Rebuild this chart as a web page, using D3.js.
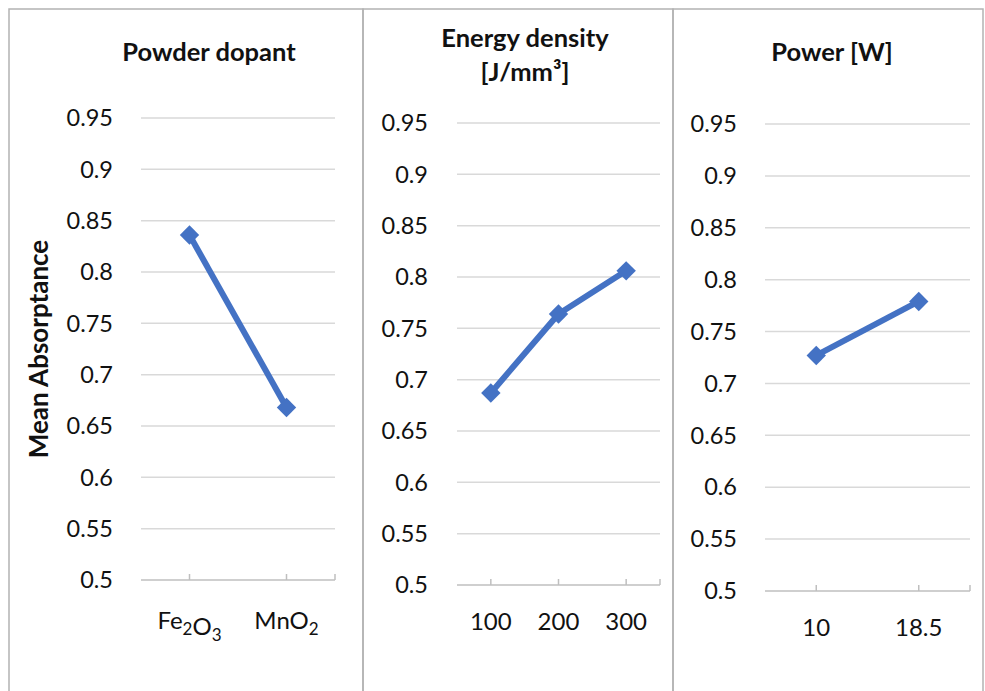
<!DOCTYPE html>
<html>
<head>
<meta charset="utf-8">
<script src="https://cdn.jsdelivr.net/npm/d3@7"></script>
<style>
  body { margin: 0; background: #fff; }
  svg text { font-family: Lato, "Open Sans", sans-serif; fill: #111; }
</style>
</head>
<body>
<script>
// chart values
var yTicks = [0.5, 0.55, 0.6, 0.65, 0.7, 0.75, 0.8, 0.85, 0.9, 0.95];

var dopantCats = ["Fe2O3", "MnO2"];
var dopantVals = [0.836, 0.668];

var energyCats = ["100", "200", "300"];
var energyVals = [0.687, 0.764, 0.806];

var powerCats = ["10", "18.5"];
var powerVals = [0.727, 0.779];

var titles = [["Powder dopant"], ["Energy density", "[J/mm³]"], ["Power [W]"]];

// layout of the three panels
var panels = [
  {cats: dopantCats, vals: dopantVals, title: titles[0], box: [9, 363], plot: [141, 335], y: [580, 118], labelX: 113, tickY: 621, titleX: 209, titleY: 61},
  {cats: energyCats, vals: energyVals, title: titles[1], box: [363, 673], plot: [457, 660], y: [585, 123], labelX: 428, tickY: 622, titleX: 525, titleY: 47},
  {cats: powerCats, vals: powerVals, title: titles[2], box: [673, 983], plot: [765, 970], y: [591, 124], labelX: 737, tickY: 628, titleX: 832, titleY: 61}
];

var W = 985, H = 691;
var svg = d3.select("body").append("svg")
    .attr("width", W)
    .attr("height", H);

var blue = "#4472C4";

// outer frame (no bottom edge visible in the picture)
panels.forEach(function(p, i) {
  var path = "M" + p.box[0] + "," + (H + 2) + "V9H" + p.box[1] + "V" + (H + 2);
  svg.append("path")
    .attr("d", path)
    .attr("fill", "none")
    .attr("stroke", "#b3b3b3")
    .attr("stroke-width", 1.5);
});

// writes a label, turning digits after letters into subscripts (Fe2O3 -> Fe₂O₃)
function writeLabel(sel, txt) {
  if (/^[\d.]+$/.test(txt)) { sel.text(txt); return; }
  var parts = txt.match(/[A-Za-z]+|\d+/g);
  parts.forEach(function(part) {
    if (/^\d+$/.test(part)) {
      sel.append("tspan").attr("dy", 6).attr("font-size", 17).text(part);
      sel.append("tspan").attr("dy", -6).text("");
    } else {
      sel.append("tspan").text(part);
    }
  });
}

panels.forEach(function(p) {
  var g = svg.append("g");

  var x = d3.scaleBand()
    .domain(p.cats)
    .range(p.plot);

  var y = d3.scaleLinear()
    .domain([0.5, 0.95])
    .range(p.y);

  // gridlines
  g.selectAll(".grid")
    .data(yTicks.slice(1))
    .enter().append("line")
    .attr("x1", p.plot[0]).attr("x2", p.plot[1])
    .attr("y1", function(d) { return y(d); })
    .attr("y2", function(d) { return y(d); })
    .attr("stroke", "#d9d9d9")
    .attr("stroke-width", 1.5);

  // category axis line + ticks
  g.append("line")
    .attr("x1", p.plot[0]).attr("x2", p.plot[1])
    .attr("y1", y(0.5)).attr("y2", y(0.5))
    .attr("stroke", "#bfbfbf")
    .attr("stroke-width", 1.5);

  var tickXs = p.cats.map(function(c) { return x(c) + x.bandwidth() / 2; });
  tickXs.push(p.plot[1]);
  g.selectAll(".xtick")
    .data(tickXs)
    .enter().append("line")
    .attr("x1", function(d) { return d; })
    .attr("x2", function(d) { return d; })
    .attr("y1", y(0.5)).attr("y2", y(0.5) - 6)
    .attr("stroke", "#bfbfbf")
    .attr("stroke-width", 1.5);

  // y tick labels
  g.selectAll(".ylab")
    .data(yTicks)
    .enter().append("text")
    .attr("x", p.labelX)
    .attr("y", function(d) { return y(d); })
    .attr("dy", "0.35em")
    .attr("text-anchor", "end")
    .attr("font-size", 23.5)
    .text(function(d) { return d3.format("")(+d.toFixed(2)); });

  // category labels
  g.selectAll(".xlab")
    .data(p.cats)
    .enter().append("text")
    .attr("x", function(d) { return x(d) + x.bandwidth() / 2; })
    .attr("y", p.tickY)
    .attr("dy", "0.35em")
    .attr("text-anchor", "middle")
    .attr("font-size", 24)
    .each(function(d) { writeLabel(d3.select(this), d); });

  // title
  var t = g.append("text")
    .attr("x", p.titleX)
    .attr("y", p.titleY)
    .attr("text-anchor", "middle")
    .attr("font-size", 25.5)
    .attr("font-weight", "bold");
  p.title.forEach(function(line, i) {
    t.append("tspan")
      .attr("x", p.titleX)
      .attr("dy", i === 0 ? 0 : 34)
      .text(line);
  });

  // series line
  var line = d3.line()
    .x(function(d, i) { return x(p.cats[i]) + x.bandwidth() / 2; })
    .y(function(d) { return y(d); });

  g.append("path")
    .datum(p.vals)
    .attr("d", line)
    .attr("fill", "none")
    .attr("stroke", blue)
    .attr("stroke-width", 6)
    .attr("stroke-linejoin", "round");

  g.selectAll(".mark")
    .data(p.vals)
    .enter().append("path")
    .attr("transform", function(d, i) {
      return "translate(" + (x(p.cats[i]) + x.bandwidth() / 2) + "," + y(d) + ")";
    })
    .attr("d", d3.symbol().type(d3.symbolDiamond2).size(240))
    .attr("fill", blue);
});

// y axis title
svg.append("text")
  .attr("transform", "translate(39,349) rotate(-90)")
  .attr("dy", "0.35em")
  .attr("text-anchor", "middle")
  .attr("font-size", 26)
  .attr("font-weight", "bold")
  .text("Mean Absorptance");
</script>
</body>
</html>
